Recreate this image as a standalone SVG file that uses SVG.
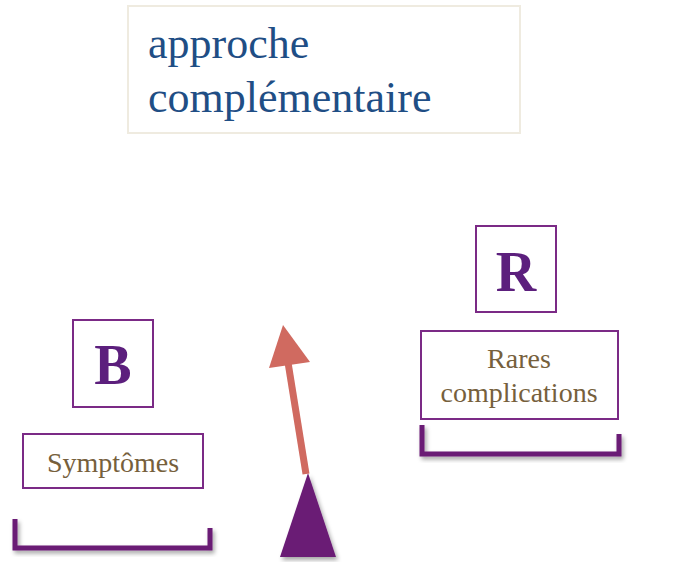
<svg xmlns="http://www.w3.org/2000/svg" width="677" height="562" viewBox="0 0 677 562">
<defs>
<style>
.box{fill:#fff;stroke:#7b2a86;stroke-width:2}
.letter{font-family:"Liberation Serif",serif;font-weight:bold;font-size:56px;fill:#5c1f7d;text-anchor:middle}
.lbl{font-family:"Liberation Serif",serif;font-size:28px;fill:#76603c;text-anchor:middle}
.brk{fill:none;stroke:#6a1a74;stroke-width:5;stroke-linejoin:miter}
</style>
<filter id="sh" x="-10%" y="-30%" width="120%" height="160%">
<feDropShadow dx="2" dy="3" stdDeviation="2" flood-color="#000" flood-opacity="0.35"/>
</filter>
</defs>
<rect width="677" height="562" fill="#fff"/>
<g id="title">
<rect x="128" y="6" width="392" height="127" fill="#fff" stroke="#efebe0" stroke-width="2"/>
<text x="148" y="58" font-family="'Liberation Serif',serif" font-size="44" fill="#1f4e85">approche</text>
<text x="148" y="112" font-family="'Liberation Serif',serif" font-size="44" fill="#1f4e85">complémentaire</text>
</g>
<g id="B">
<rect class="box" x="73" y="320" width="80" height="87"/>
<text class="letter" x="113" y="384">B</text>
</g>
<g id="symptomes">
<rect class="box" x="23" y="434" width="180" height="54"/>
<text class="lbl" x="113" y="472">Symptômes</text>
</g>
<g id="bracketL" filter="url(#sh)">
<polyline class="brk" points="15,519 15,548 210,548 210,528"/>
</g>
<g id="R">
<rect class="box" x="476" y="226" width="80" height="86"/>
<text class="letter" x="516" y="291">R</text>
</g>
<g id="rares">
<rect class="box" x="421" y="331" width="197" height="88"/>
<text class="lbl" x="519" y="368">Rares</text>
<text class="lbl" x="519" y="402">complications</text>
</g>
<g id="bracketR" filter="url(#sh)">
<polyline class="brk" points="422,425 422,454 619,454 619,434"/>
</g>
<g id="connectors">
<polygon points="308,473 280,557 336,557" fill="#6a1a74" filter="url(#sh)"/>
<line x1="306" y1="474" x2="286" y2="350" stroke="#d06a60" stroke-width="7"/>
<polygon points="283,325 269,368 310,362" fill="#d06a60"/>
</g>
</svg>
